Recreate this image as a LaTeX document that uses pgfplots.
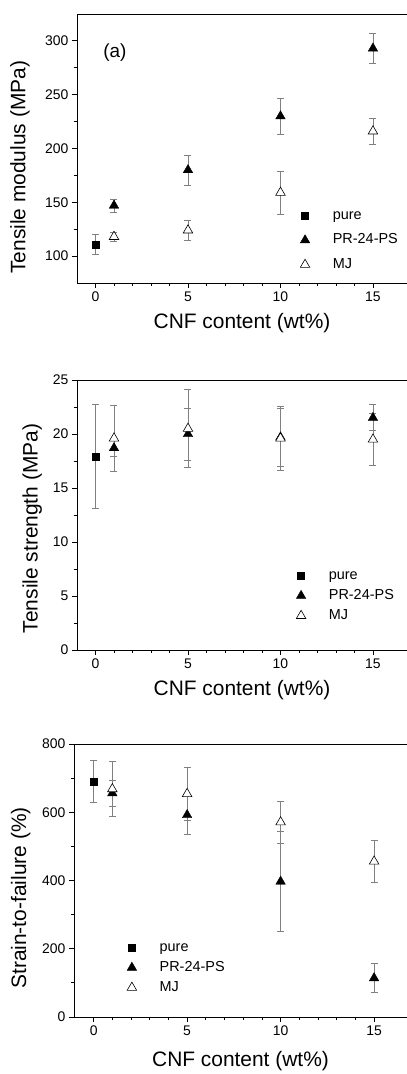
\documentclass[border=0pt]{standalone}
\usepackage{pgfplots}
\pgfplotsset{compat=1.18}
\usepackage{fontspec}
\setmainfont{Liberation Sans}

\newcommand\labfont{\fontsize{21}{24}\selectfont}
\newcommand\legfont{\fontsize{14.5}{16}\selectfont}

\pgfplotsset{
  panel/.style={
    scale only axis,
    anchor=south west,
    axis y line*=left,
    xtick pos=left,
    tick align=outside,
    major tick length=5bp,
    minor tick length=3bp,
    xtick={0,5,10,15},
    minor x tick num=4,
    minor y tick num=1,
    axis line style={line width=0.9bp},
    every tick/.style={black, line width=0.8bp},
    tick label style={font=\fontsize{14}{16}\selectfont},
    /pgf/number format/assume math mode=true,
    xlabel={CNF content (wt\%)},
    every axis x label/.style={at={(axis description cs:0.5,0)}, anchor=center, yshift=-40bp, font=\labfont},
    legend cell align=left,
    legend style={draw=none, fill=none, font=\legfont,
      anchor=north west, nodes={font=\legfont, inner sep=0pt, text height=10bp, text depth=3bp},
      /tikz/every odd column/.append style={column sep=23bp}},
    legend image code/.code={\draw[##1] plot coordinates {(0bp,0bp)};},
    every axis plot/.append style={error bars/y dir=both, error bars/y explicit,
      error bars/error bar style={gray, line width=0.7bp},
      error bars/error mark options={rotate=90, mark size=3.5bp, gray, line width=0.7bp}},
  },
  pure/.style={only marks, mark=square*, mark size=3.5bp, black},
  prps/.style={only marks, mark=triangle*, mark size=5.5bp, black},
  mj/.style={only marks, mark=triangle*, mark size=5.5bp, black,
    mark options={fill=white, line width=0.6bp}},
}

\begin{document}
\begin{tikzpicture}
\path[use as bounding box] (0,0) rectangle (407bp,1074bp);

% (a) modulus
\begin{axis}[panel, at={(77bp,791bp)}, width=330bp, height=269bp,
  xmin=-1, xmax=16.84, ymin=75, ymax=325, ytick={100,150,...,300},
  ylabel={Tensile modulus (MPa)},
  every axis y label/.style={at={(axis description cs:-0.173,0.43)}, rotate=90, anchor=center, font=\labfont},
  legend style={at={(rel axis cs:0.667,0.2825)}, row sep=11.5bp}]
\addplot[pure] coordinates {(0,111) +- (0,9.5)};
\addplot[prps] coordinates {(1,147) +- (0,6) (5,180) +- (0,14) (10,230) +- (0,17) (15,293) +- (0,14)};
\addplot[mj] coordinates {(1,118) +- (0,4) (5,124) +- (0,9.5) (10,159) +- (0,20) (15,216) +- (0,12)};
\legend{pure, PR-24-PS, MJ}
\node[font=\fontsize{19}{22}\selectfont] at (rel axis cs:0.115,0.855) {(a)};
\end{axis}

% (b) strength
\begin{axis}[panel, at={(77bp,424bp)}, width=330bp, height=270bp,
  xmin=-1, xmax=16.84, ymin=0, ymax=25, ytick={0,5,...,25},
  ylabel={Tensile strength (MPa)},
  every axis y label/.style={at={(axis description cs:-0.136,0.45)}, rotate=90, anchor=center, font=\labfont},
  legend style={at={(rel axis cs:0.655,0.307)}, row sep=7bp}]
\addplot[pure] coordinates {(0,17.9) +- (0,4.8)};
\addplot[prps] coordinates {(1,18.7) +- (0,0.75) (5,20.0) +- (0,2.4) (10,19.7) +- (0,2.7) (15,21.5) +- (0,1.2)};
\addplot[mj] coordinates {(1,19.6) +- (0,3.05) (5,20.5) +- (0,3.6) (10,19.6) +- (0,2.95) (15,19.5) +- (0,2.4)};
\legend{pure, PR-24-PS, MJ}
\end{axis}

% (c) strain
\begin{axis}[panel, at={(74bp,57bp)}, width=333bp, height=273bp,
  xmin=-1.05, xmax=16.76, ymin=0, ymax=800, ytick={0,200,...,800},
  ylabel={Strain-to-failure (\%)},
  every axis x label/.append style={yshift=-4bp},
  every axis y label/.style={at={(axis description cs:-0.16,0.436)}, rotate=90, anchor=center, font=\labfont},
  legend style={at={(rel axis cs:0.15,0.286)}, row sep=7bp}]
\addplot[pure] coordinates {(0,690) +- (0,61)};
\addplot[prps] coordinates {(1,656) +- (0,38) (5,592) +- (0,57) (10,397) +- (0,147) (15,114) +- (0,43)};
\addplot[mj] coordinates {(1,668) +- (0,80) (5,654) +- (0,78) (10,571) +- (0,61) (15,456) +- (0,61)};
\legend{pure, PR-24-PS, MJ}
\end{axis}
\end{tikzpicture}
\end{document}
